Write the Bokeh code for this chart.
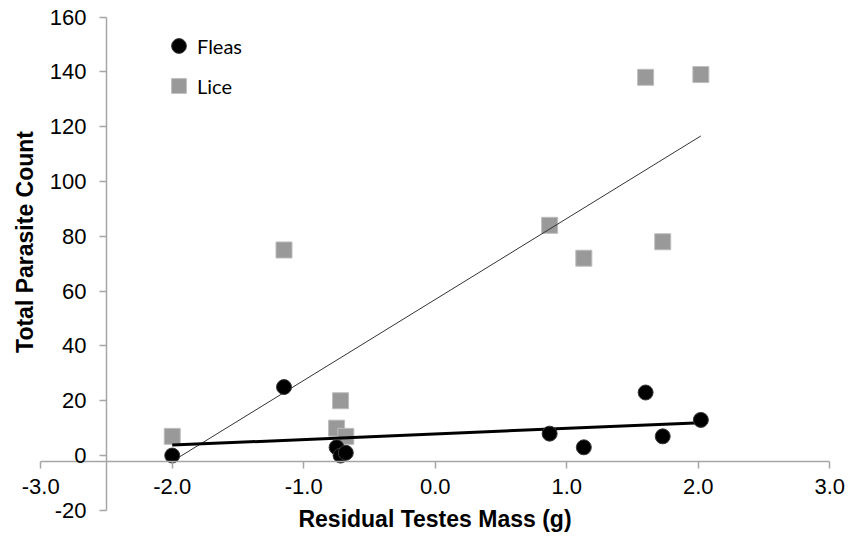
import numpy as np
from bokeh.plotting import figure
from bokeh.models import (Range1d, LinearAxis, FixedTicker, PrintfTickFormatter,
                          Legend, LegendItem)
from bokeh.embed import file_html
from bokeh.resources import INLINE

# ---- data ----
testes_mass = [-2.00, -1.15, -0.75, -0.72, -0.68, 0.87, 1.13, 1.60, 1.73, 2.02]
fleas = [0, 25, 3, 0, 1, 8, 3, 23, 7, 13]
lice = [7, 75, 10, 20, 7, 84, 72, 138, 78, 139]

x_ticks = [-3, -2, -1, 0, 1, 2, 3]
y_ticks = [-20, 0, 20, 40, 60, 80, 100, 120, 140, 160]

AXIS_COLOR = "#a6a6a6"

p = figure(width=845, height=540,
           x_range=Range1d(-3.306, 3.120), y_range=Range1d(-30.99, 166.02),
           x_axis_location=None, y_axis_location=None,
           toolbar_location=None, output_backend="svg",
           min_border=0, min_border_left=0, min_border_right=0,
           min_border_top=0, min_border_bottom=0,
           outline_line_color=None)
p.grid.visible = False
p.background_fill_color = "white"


def style_axis(ax):
    ax.axis_line_color = AXIS_COLOR
    ax.axis_line_width = 1.5
    ax.major_tick_line_color = AXIS_COLOR
    ax.major_tick_line_width = 1.5
    ax.major_tick_out = 7
    ax.major_tick_in = 0
    ax.minor_tick_out = 0
    ax.minor_tick_in = 0
    ax.major_label_text_font = "Liberation Sans"
    ax.major_label_text_font_size = "22px"
    ax.major_label_text_color = "#000000"
    ax.axis_label_text_font = "Liberation Sans"
    ax.axis_label_text_font_style = "bold"
    ax.axis_label_text_font_size = "23px"
    ax.axis_label_text_color = "#000000"


xaxis = LinearAxis(fixed_location=-2.3, bounds=(min(x_ticks), max(x_ticks)),
                   ticker=FixedTicker(ticks=x_ticks),
                   formatter=PrintfTickFormatter(format="%.1f"),
                   axis_label="Residual Testes Mass (g)")
style_axis(xaxis)
xaxis.major_label_standoff = 10
xaxis.axis_label_standoff = 9
p.add_layout(xaxis, "below")

yaxis = LinearAxis(fixed_location=-2.5, bounds=(min(y_ticks), max(y_ticks)),
                   ticker=FixedTicker(ticks=y_ticks),
                   formatter=PrintfTickFormatter(format="%d"))
style_axis(yaxis)
yaxis.major_label_standoff = 13
p.add_layout(yaxis, "left")

# y-axis title, centred a little above the tick span as in the reference
ytitle_axis = LinearAxis(fixed_location=-2.5, bounds=(-4, 160),
                         ticker=FixedTicker(ticks=[]),
                         axis_label="Total Parasite Count")
style_axis(ytitle_axis)
ytitle_axis.axis_line_color = None
ytitle_axis.major_tick_line_color = None
ytitle_axis.major_tick_out = 0
ytitle_axis.major_label_standoff = 0
ytitle_axis.axis_label_standoff = 69
p.add_layout(ytitle_axis, "left")

# ---- glyphs ----
r_lice = p.scatter(testes_mass, lice, marker="square", size=16,
                   fill_color="#999999", line_color="#bdbdbd", line_width=1)

xf = np.array([min(testes_mass), max(testes_mass)])
fit_lice = np.polyfit(testes_mass, lice, 1)
fit_fleas = np.polyfit(testes_mass, fleas, 1)
p.line(xf, np.polyval(fit_lice, xf), line_color="#333333", line_width=1)
p.line(xf, np.polyval(fit_fleas, xf), line_color="#000000", line_width=3)

r_fleas = p.scatter(testes_mass, fleas, marker="circle", size=15,
                    fill_color="#000000", line_color="#3a3a3a", line_width=1)

legend = Legend(items=[LegendItem(label="Fleas", renderers=[r_fleas]),
                       LegendItem(label="Lice", renderers=[r_lice])],
                location=(160, 436), glyph_width=37, glyph_height=37,
                spacing=3, padding=0, margin=0, label_standoff=0,
                border_line_color=None, background_fill_alpha=0,
                label_text_font="Lato", label_text_font_size="20px",
                label_text_color="#000000")
p.add_layout(legend)

open("out.html", "w").write(file_html(p, INLINE))
